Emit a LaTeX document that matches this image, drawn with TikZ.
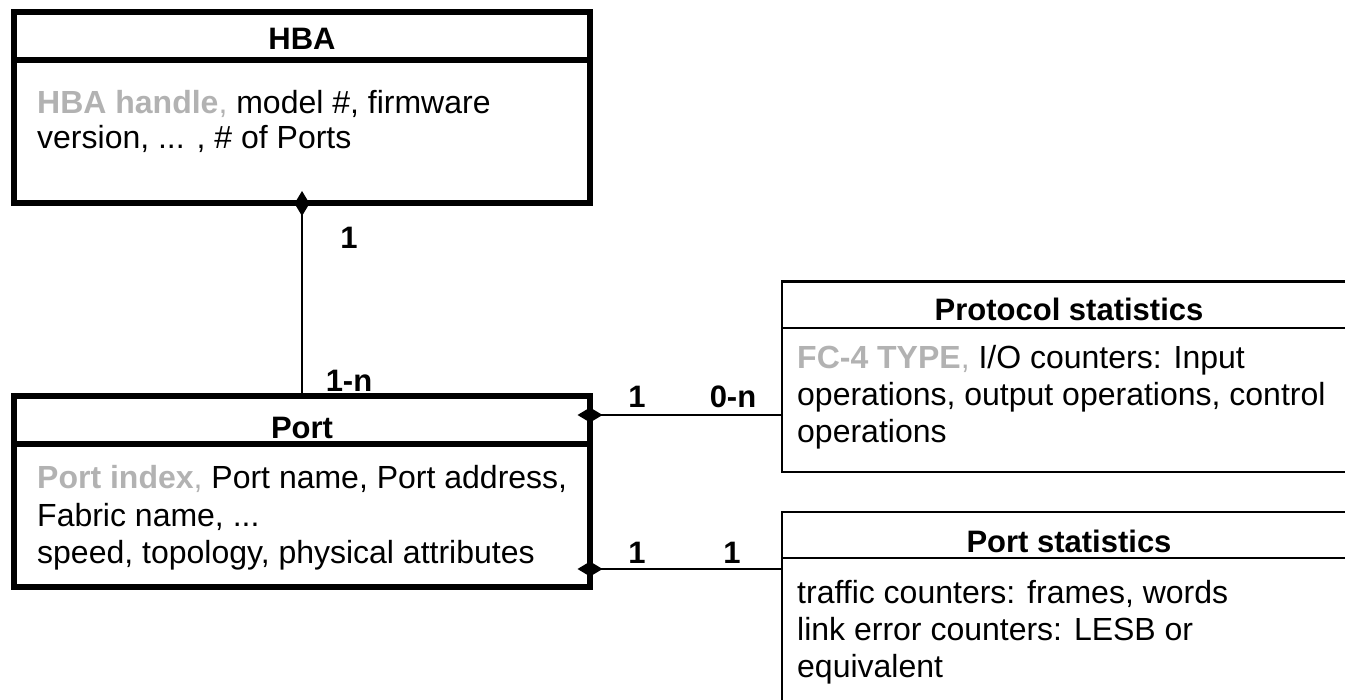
\documentclass[tikz,border=0pt]{standalone}
\usepackage{fontspec}
\setmainfont{Liberation Sans}
\usetikzlibrary{arrows.meta}
\definecolor{keygray}{RGB}{178,178,178}
\tikzset{
  heavybox/.style={draw, rectangle, line width=6pt, inner sep=0pt, outer sep=0pt},
  lightbox/.style={draw, rectangle, line width=2.6pt, inner sep=0pt, outer sep=0pt},
  ttl/.style={font=\bfseries\fontsize{31}{37}\selectfont, anchor=base, inner sep=0pt},
  txt/.style={font=\fontsize{32}{37}\selectfont, anchor=base west, inner sep=0pt},
  mult/.style={font=\bfseries\fontsize{31}{37}\selectfont, anchor=base, inner sep=0pt},
  comp/.style={line width=2.6pt, {Diamond[length=25pt,width=15pt]}-, shorten <=-12.5pt},
}
\newcommand{\keyattr}[1]{{\color{keygray}\bfseries #1}}
\begin{document}
\begin{tikzpicture}[x=1pt,y=-1pt]
  \useasboundingbox (0,0) rectangle (1345,700);
  \clip (0,0) rectangle (1345,700);

  % HBA class
  \node[heavybox, minimum width=576pt, minimum height=47.5pt]  (hbaT) at (302,36.25) {};
  \node[heavybox, minimum width=576pt, minimum height=143.5pt] (hbaB) at (302,131.75) {};
  \node[ttl] (hbaName) at (302,50) {HBA};
  \node[txt] (hba1) at (37,114) {\keyattr{HBA handle}{\color{keygray},} model \#, firmware};
  \node[txt] (hba2) at (37,149) {version, ... , \# of Ports};

  % Port class
  \node[heavybox, minimum width=576pt, minimum height=48pt]    (portT) at (302,420) {};
  \node[heavybox, minimum width=576pt, minimum height=142.5pt] (portB) at (302,515.25) {};
  \node[ttl] (portName) at (302,439) {Port};
  \node[txt] (port1) at (37,489) {\keyattr{Port index}{\color{keygray},} Port name, Port address,};
  \node[txt] (port2) at (37,526) {Fabric name, ...};
  \node[txt] (port3) at (37,563) {speed, topology, physical attributes};

  % Protocol statistics class
  \node[lightbox, minimum width=574pt, minimum height=46.5pt] (protoT) at (1069,304.75) {};
  \node[lightbox, minimum width=574pt, minimum height=144pt]  (protoB) at (1069,400) {};
  \node[ttl] (protoName) at (1069,321) {Protocol statistics};
  \node[txt] (proto1) at (797,369) {\keyattr{FC-4 TYPE}{\color{keygray},} I/O counters: Input};
  \node[txt] (proto2) at (797,406) {operations, output operations, control};
  \node[txt] (proto3) at (797,443) {operations};

  % Port statistics class
  \node[lightbox, minimum width=574pt, minimum height=46pt]  (statsT) at (1069,535) {};
  \node[lightbox, minimum width=574pt, minimum height=254pt] (statsB) at (1069,685) {};
  \node[ttl] (statsName) at (1069,553) {Port statistics};
  \node[txt] (stats1) at (797,603) {traffic counters: frames, words};
  \node[txt] (stats2) at (797,640) {link error counters: LESB or};
  \node[txt] (stats3) at (797,677) {equivalent};

  % Compositions
  \draw[comp] (hbaB.south) -- (portT.north);
  \path (portT.north east) ++(0,19) coordinate (pp);
  \draw[comp] (pp) -- (pp -| protoB.west);
  \path (portB.south east) ++(0,-17.5) coordinate (ps);
  \draw[comp] (ps) -- (ps -| statsB.west);

  % Multiplicities
  \node[mult] (m1) at (349,249) {1};
  \node[mult] (m2) at (349,392) {1-n};
  \node[mult] (m3) at (637,408) {1};
  \node[mult] (m4) at (733,408) {0-n};
  \node[mult] (m5) at (637,563) {1};
  \node[mult] (m6) at (732,563) {1};
\end{tikzpicture}
\end{document}
